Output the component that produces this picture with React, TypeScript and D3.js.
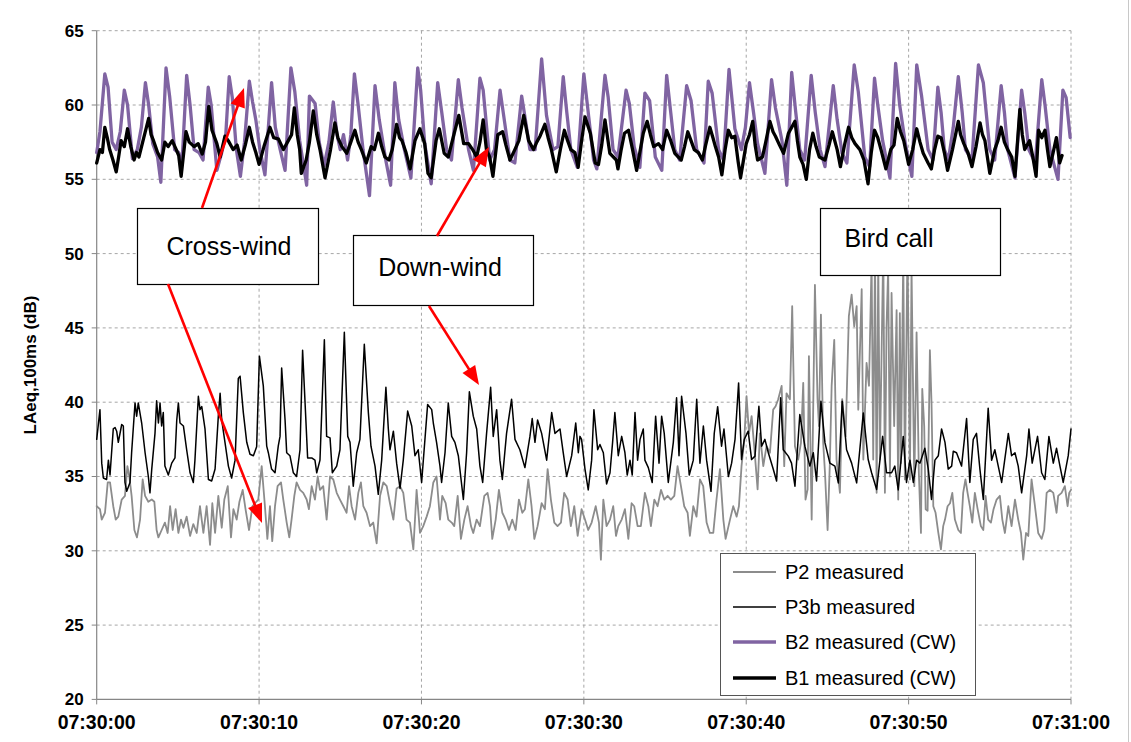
import React from 'react';
import * as d3 from 'd3';

type Pt = [number, number];

const xTickSeconds = [0, 10, 20, 30, 40, 50, 60];
const xTickLabels = ['07:30:00', '07:30:10', '07:30:20', '07:30:30', '07:30:40', '07:30:50', '07:31:00'];
const yTicks = [20, 25, 30, 35, 40, 45, 50, 55, 60, 65];
const yTitle = 'LAeq,100ms (dB)';
const seriesNames = ['P2 measured', 'P3b measured', 'B2 measured (CW)', 'B1 measured (CW)'];
const annotationLabels = ['Cross-wind', 'Down-wind', 'Bird call'];

// [seconds after 07:30:00, dB]
const p2Measured: Pt[] = [[0,33.0],[0.2,32.8],[0.31,32.1],[0.51,32.56],[0.68,34.6],[0.82,34.6],[1.02,33.0],[1.17,32.1],[1.33,32.3],[1.54,33.45],[1.74,33.7],[1.89,35.7],[2.01,35.0],[2.15,33.7],[2.32,31.4],[2.48,30.9],[2.67,32.1],[2.83,34.8],[2.98,33.7],[3.18,33.3],[3.39,33.45],[3.55,33.3],[3.69,31.4],[3.8,30.9],[4.0,31.4],[4.2,31.9],[4.37,31.2],[4.52,33.0],[4.68,31.4],[4.86,32.8],[5.03,31.2],[5.19,32.1],[5.34,31.55],[5.54,32.3],[5.75,31.0],[5.95,31.8],[6.16,31.2],[6.36,33.0],[6.57,31.2],[6.77,33.0],[6.98,30.4],[7.12,33.2],[7.29,31.2],[7.49,33.7],[7.7,31.55],[7.86,33.45],[8.07,34.35],[8.27,30.9],[8.42,32.8],[8.62,32.1],[8.79,33.3],[8.99,34.1],[9.18,32.7],[9.38,31.4],[9.59,33.0],[9.75,33.2],[9.95,33.45],[10.16,35.7],[10.36,33.0],[10.51,30.8],[10.67,33.0],[10.81,30.65],[10.98,33.0],[11.14,34.35],[11.35,34.6],[11.49,33.45],[11.7,31.9],[11.86,30.9],[12.0,32.1],[12.17,33.7],[12.31,34.6],[12.52,34.1],[12.72,33.9],[12.93,33.45],[13.07,32.8],[13.24,34.35],[13.44,33.45],[13.61,35.0],[13.75,34.1],[13.95,34.35],[14.16,32.1],[14.37,35.0],[14.57,34.8],[14.78,33.9],[14.98,33.45],[15.19,33.0],[15.39,32.56],[15.54,34.35],[15.7,33.0],[15.91,32.1],[16.11,33.9],[16.27,34.6],[16.42,33.0],[16.62,32.56],[16.83,31.66],[17.03,31.9],[17.24,30.5],[17.45,33.7],[17.65,34.6],[17.86,34.35],[18.06,33.2],[18.27,32.1],[18.47,34.2],[18.68,34.35],[18.88,33.9],[19.08,32.1],[19.29,31.9],[19.5,30.1],[19.7,34.1],[19.91,31.2],[20.11,31.66],[20.32,32.3],[20.52,33.0],[20.73,34.6],[20.93,35.0],[21.14,32.1],[21.28,33.7],[21.49,33.2],[21.65,32.1],[21.86,31.9],[22.02,31.66],[22.23,33.7],[22.43,30.8],[22.64,32.1],[22.84,33.0],[23.05,31.66],[23.19,31.2],[23.4,32.1],[23.6,31.66],[23.87,33.7],[24.07,33.9],[24.22,33.0],[24.36,30.8],[24.57,32.1],[24.77,34.1],[24.98,32.56],[25.18,32.1],[25.39,31.4],[25.59,32.1],[25.8,31.4],[26.0,33.45],[26.21,32.56],[26.37,32.8],[26.58,34.8],[26.78,33.0],[26.95,30.8],[27.15,31.66],[27.4,33.2],[27.6,32.8],[27.77,35.5],[27.97,33.45],[28.18,31.9],[28.38,31.66],[28.59,31.9],[28.79,33.9],[29.0,33.45],[29.2,31.66],[29.41,33.0],[29.62,31.0],[29.86,32.8],[30.07,32.1],[30.27,31.4],[30.48,31.9],[30.73,33.0],[30.93,31.9],[31.05,29.4],[31.2,33.45],[31.4,31.66],[31.61,32.1],[31.81,33.0],[31.98,31.0],[32.12,31.66],[32.33,32.1],[32.53,32.8],[32.74,30.8],[32.94,33.2],[33.1,33.0],[33.31,31.66],[33.51,31.66],[33.76,33.9],[33.97,33.0],[34.13,31.66],[34.34,33.45],[34.54,33.0],[34.75,34.1],[34.95,33.45],[35.16,33.7],[35.36,33.45],[35.57,33.7],[35.77,35.7],[35.98,34.35],[36.18,33.0],[36.39,32.56],[36.53,31.0],[36.74,33.0],[36.94,32.3],[37.15,34.8],[37.35,34.35],[37.56,31.9],[37.76,31.2],[37.97,31.2],[38.17,33.45],[38.38,35.5],[38.59,32.1],[38.73,30.8],[39.0,32.1],[39.2,33.0],[39.41,32.3],[39.55,33.0],[39.71,35.7],[39.88,37.5],[40.02,40.4],[40.17,37.9],[40.33,39.06],[40.49,37.04],[40.7,34.13],[40.84,37.9],[41.05,35.7],[41.25,37.04],[41.46,36.6],[41.66,39.5],[41.81,39.73],[41.97,40.2],[42.18,41.1],[42.34,35.7],[42.48,40.6],[42.69,40.2],[42.83,46.46],[43.0,37.04],[43.2,36.14],[43.37,37.26],[43.51,41.3],[43.65,33.45],[43.78,34.13],[43.86,43.1],[44.03,32.1],[44.23,47.9],[44.39,40.2],[44.48,38.4],[44.6,45.9],[44.74,37.26],[44.85,35.25],[45.01,31.4],[45.15,35.9],[45.26,41.1],[45.42,44.2],[45.56,36.14],[45.77,33.9],[45.91,40.2],[46.12,37.7],[46.32,45.8],[46.49,47.24],[46.65,45.1],[46.8,46.46],[46.9,39.5],[47.11,47.6],[47.21,36.14],[47.41,42.65],[47.56,41.1],[47.72,49.5],[47.82,36.14],[47.93,50.0],[48.03,33.9],[48.13,49.5],[48.23,36.14],[48.33,42.87],[48.44,50.5],[48.54,33.9],[48.64,45.1],[48.74,49.0],[48.85,35.0],[48.95,47.35],[49.11,38.4],[49.26,46.2],[49.36,33.45],[49.46,46.0],[49.53,35.9],[49.67,50.0],[49.77,34.8],[49.93,50.5],[50.08,34.8],[50.18,49.0],[50.35,34.35],[50.49,44.7],[50.63,35.25],[50.76,31.2],[50.84,40.9],[50.96,38.4],[51.05,32.8],[51.17,32.7],[51.31,43.5],[51.41,39.95],[51.52,33.0],[51.66,32.56],[51.83,31.2],[51.99,30.1],[52.13,31.66],[52.24,32.1],[52.4,33.0],[52.55,33.2],[52.69,33.9],[52.85,32.1],[53.06,31.4],[53.22,31.2],[53.36,33.9],[53.5,34.8],[53.63,33.9],[53.77,33.0],[53.92,31.9],[54.08,33.9],[54.25,32.8],[54.45,31.66],[54.6,31.4],[54.74,33.7],[54.9,32.1],[55.07,31.9],[55.23,32.8],[55.42,33.45],[55.62,33.7],[55.77,32.1],[55.93,31.2],[56.14,33.0],[56.34,31.66],[56.55,33.45],[56.75,32.1],[56.92,31.2],[57.06,29.4],[57.23,31.2],[57.37,31.0],[57.57,34.8],[57.78,33.0],[57.98,31.2],[58.19,30.8],[58.35,31.4],[58.5,33.9],[58.7,34.1],[58.91,33.9],[59.11,32.56],[59.21,33.7],[59.42,33.9],[59.62,34.35],[59.79,33.0],[59.89,33.9],[60.0,34.1]];

const p3bMeasured: Pt[] = [[0,37.5],[0.2,39.5],[0.31,35.9],[0.41,34.9],[0.61,34.8],[0.72,36.1],[0.82,35.1],[1.02,38.2],[1.13,38.3],[1.23,38.05],[1.33,37.3],[1.54,38.5],[1.64,38.4],[1.74,34.6],[1.85,34.0],[2.05,34.6],[2.15,36.6],[2.36,39.95],[2.46,39.06],[2.56,39.95],[2.77,38.6],[2.98,36.6],[3.18,35.0],[3.28,33.9],[3.39,35.5],[3.59,37.9],[3.69,40.1],[3.8,38.6],[3.9,39.95],[4.0,38.4],[4.1,39.3],[4.2,35.7],[4.41,35.1],[4.62,35.9],[4.82,36.25],[4.93,38.8],[5.03,39.95],[5.13,38.6],[5.34,38.4],[5.54,36.8],[5.75,35.25],[5.95,34.6],[6.05,36.1],[6.26,40.4],[6.36,39.5],[6.47,39.7],[6.67,38.2],[6.88,34.8],[7.08,34.7],[7.29,35.5],[7.49,39.06],[7.6,40.6],[7.7,38.8],[7.9,37.3],[8.11,35.7],[8.31,34.9],[8.52,36.1],[8.72,41.6],[8.83,41.75],[9.03,39.3],[9.24,37.3],[9.44,36.5],[9.65,36.4],[9.85,37.0],[10.02,43.1],[10.26,41.1],[10.47,37.04],[10.57,36.6],[10.77,35.5],[10.98,35.25],[11.18,37.04],[11.29,37.7],[11.39,42.3],[11.6,38.8],[11.7,36.6],[11.9,36.4],[12.11,35.25],[12.31,35.0],[12.52,36.8],[12.68,43.5],[12.83,40.0],[12.99,36.25],[13.24,36.25],[13.44,36.1],[13.55,35.25],[13.75,36.1],[14.02,44.2],[14.16,37.7],[14.37,37.6],[14.51,35.25],[14.78,35.7],[14.98,36.8],[15.25,44.7],[15.46,37.7],[15.6,37.3],[15.8,34.35],[16.01,36.6],[16.21,37.5],[16.48,43.9],[16.73,39.3],[16.89,37.04],[17.14,35.7],[17.34,33.8],[17.55,36.1],[17.81,41.0],[17.96,38.2],[18.06,36.8],[18.27,38.05],[18.47,35.9],[18.68,34.2],[18.88,36.1],[19.15,39.4],[19.4,38.4],[19.6,36.4],[19.8,36.8],[20.01,34.6],[20.38,39.85],[20.63,39.5],[20.73,38.6],[20.93,37.3],[21.14,35.7],[21.24,34.6],[21.45,36.6],[21.65,39.95],[21.86,37.7],[22.06,37.3],[22.27,36.4],[22.58,33.45],[22.78,36.6],[22.95,40.7],[23.19,39.06],[23.4,38.2],[23.6,35.7],[23.77,34.6],[24.01,37.9],[24.26,41.0],[24.42,37.7],[24.63,39.5],[24.83,36.1],[24.98,34.8],[25.24,37.9],[25.55,40.2],[25.76,37.5],[26.06,36.8],[26.37,35.6],[26.68,37.7],[26.82,38.9],[26.99,37.3],[27.15,38.8],[27.4,37.9],[27.71,36.1],[28.02,39.3],[28.22,37.9],[28.53,38.2],[28.73,36.6],[28.94,35.0],[29.25,36.4],[29.5,38.6],[29.66,36.6],[29.76,37.7],[29.86,37.5],[30.07,35.5],[30.27,34.1],[30.48,36.1],[30.62,39.5],[30.85,36.8],[30.99,37.15],[31.2,36.6],[31.4,34.5],[31.61,35.25],[31.77,37.3],[31.91,39.3],[32.12,36.4],[32.33,37.7],[32.53,36.6],[32.67,35.1],[32.84,36.1],[32.98,35.1],[33.15,39.3],[33.31,36.1],[33.46,37.5],[33.66,38.2],[33.76,36.1],[33.97,35.6],[34.21,34.6],[34.42,39.06],[34.63,35.9],[34.79,39.06],[34.95,37.9],[35.2,34.6],[35.51,37.3],[35.71,40.3],[35.86,36.4],[36.02,40.4],[36.29,37.9],[36.49,35.1],[36.74,36.1],[36.95,40.2],[37.15,35.9],[37.36,38.4],[37.56,36.1],[37.83,34.0],[38.03,37.9],[38.24,39.7],[38.48,37.04],[38.63,38.2],[38.9,35.0],[39.1,35.9],[39.31,37.5],[39.53,41.3],[39.71,36.14],[39.88,37.5],[40.12,38.05],[40.33,36.14],[40.54,36.37],[40.78,39.73],[40.95,37.04],[41.15,37.5],[41.36,36.6],[41.67,35.47],[41.87,34.7],[42.12,40.3],[42.28,36.8],[42.59,36.37],[42.79,35.9],[43.0,34.35],[43.3,39.17],[43.61,37.04],[43.92,35.7],[44.13,36.6],[44.33,34.7],[44.6,40.07],[44.85,37.26],[45.15,35.9],[45.46,35.7],[45.67,34.57],[45.91,40.07],[46.18,36.8],[46.49,35.9],[46.8,34.57],[47.21,39.28],[47.51,36.14],[47.72,35.25],[48.03,34.13],[48.4,37.7],[48.64,35.25],[48.95,35.25],[49.15,35.7],[49.36,34.1],[49.67,37.7],[49.87,34.6],[50.08,36.1],[50.29,34.6],[50.49,36.1],[50.7,35.9],[51.0,36.9],[51.21,35.5],[51.41,33.45],[51.62,36.1],[51.83,36.4],[52.03,38.2],[52.24,37.3],[52.44,35.5],[52.65,35.7],[52.75,36.7],[52.95,36.6],[53.26,35.7],[53.57,38.9],[53.77,34.6],[53.98,37.5],[54.18,37.9],[54.39,35.5],[54.6,33.45],[54.9,39.6],[55.11,36.1],[55.31,36.8],[55.52,35.7],[55.73,34.6],[56.14,37.9],[56.34,36.4],[56.55,36.6],[56.75,35.7],[56.96,33.9],[57.27,36.4],[57.41,38.2],[57.61,35.9],[57.94,37.7],[58.19,35.25],[58.39,34.8],[58.64,37.7],[58.91,35.9],[59.11,36.9],[59.32,35.7],[59.52,34.6],[59.83,36.4],[60.0,38.2]];

const b2Measured: Pt[] = [[0,56.8],[0.2,58.2],[0.5,62.1],[0.7,61.2],[0.95,57.5],[1.2,57.0],[1.45,58.2],[1.7,61.0],[1.9,60.0],[2.2,56.4],[2.5,57.0],[2.75,58.5],[3.0,61.5],[3.2,60.0],[3.45,57.4],[3.75,56.5],[3.95,54.8],[4.27,62.5],[4.5,60.5],[4.8,57.0],[5.05,56.8],[5.25,56.0],[5.54,62.0],[5.75,60.0],[6.0,57.0],[6.3,56.8],[6.55,56.3],[6.87,61.2],[7.05,60.0],[7.4,55.6],[7.7,56.8],[7.95,58.0],[8.16,61.9],[8.35,60.5],[8.6,57.0],[8.85,55.2],[9.1,57.5],[9.4,61.6],[9.6,60.2],[9.8,59.0],[10.05,57.0],[10.36,55.3],[10.77,61.5],[11.0,58.5],[11.3,57.0],[11.6,55.6],[11.96,62.5],[12.2,60.9],[12.5,57.6],[12.93,54.6],[13.1,60.6],[13.45,60.1],[13.7,57.5],[14.0,55.9],[14.3,57.5],[14.57,60.2],[14.8,58.0],[15.0,57.0],[15.2,58.0],[15.45,56.3],[15.65,58.0],[15.87,62.1],[16.1,60.0],[16.4,57.0],[16.8,53.9],[17.14,61.3],[17.4,59.0],[17.8,56.3],[18.1,54.6],[18.36,61.5],[18.6,59.0],[18.95,57.0],[19.35,55.1],[19.77,62.5],[19.95,61.0],[20.2,57.4],[20.6,54.7],[21.0,61.5],[21.25,59.5],[21.55,57.0],[21.85,56.3],[22.27,61.7],[22.5,59.8],[22.9,57.0],[23.2,55.6],[23.6,61.8],[23.8,61.0],[24.2,56.3],[24.5,57.0],[24.84,61.0],[25.1,59.0],[25.45,56.3],[25.75,56.1],[26.17,60.6],[26.4,59.0],[26.68,57.0],[27.0,57.0],[27.4,63.1],[27.7,59.3],[28.1,57.0],[28.4,57.2],[28.73,61.9],[28.95,59.5],[29.2,57.0],[29.6,55.8],[30.0,62.1],[30.3,59.2],[30.6,56.3],[30.8,55.7],[31.3,62.0],[31.5,60.5],[31.8,57.0],[32.1,56.5],[32.6,61.0],[32.8,60.1],[33.1,57.2],[33.45,55.8],[33.76,60.8],[34.05,60.3],[34.4,56.5],[34.8,55.6],[35.1,62.0],[35.35,59.5],[35.6,57.0],[35.9,56.3],[36.33,61.3],[36.6,60.3],[36.95,57.0],[37.4,56.1],[37.66,61.6],[37.9,60.8],[38.3,57.0],[38.6,56.3],[38.94,62.4],[39.3,58.4],[39.7,57.0],[39.95,58.5],[40.2,61.5],[40.45,59.5],[40.7,57.4],[41.15,55.4],[41.56,61.7],[41.8,59.8],[42.2,57.6],[42.5,54.6],[42.8,62.2],[43.05,59.5],[43.3,57.0],[43.6,56.3],[44.0,62.0],[44.25,59.5],[44.55,57.0],[44.85,55.85],[45.36,61.3],[45.6,59.0],[45.9,56.75],[46.2,56.1],[46.65,62.7],[46.9,60.9],[47.3,56.5],[47.6,55.85],[47.9,61.8],[48.1,60.0],[48.4,57.6],[48.85,55.1],[49.2,62.8],[49.45,60.0],[49.8,57.4],[50.2,55.2],[50.5,62.7],[50.8,60.6],[51.2,57.0],[51.5,56.3],[51.8,61.2],[52.0,59.5],[52.2,57.0],[52.45,56.3],[52.75,58.5],[53.06,61.9],[53.3,59.5],[53.5,57.0],[53.9,56.3],[54.3,62.7],[54.6,61.5],[55.0,57.0],[55.3,56.3],[55.7,61.3],[55.9,59.5],[56.1,57.0],[56.55,55.1],[56.96,61.0],[57.15,59.5],[57.4,57.0],[57.8,56.1],[58.2,61.7],[58.4,60.0],[58.7,57.0],[59.2,55.0],[59.5,61.0],[59.7,60.5],[59.95,57.8]];

const b1Measured: Pt[] = [[0,56.1],[0.2,57.0],[0.35,56.8],[0.5,58.5],[0.65,57.8],[0.8,57.0],[1.0,56.3],[1.2,55.5],[1.35,56.5],[1.5,57.6],[1.7,57.2],[1.9,58.4],[2.1,57.2],[2.3,56.3],[2.45,56.8],[2.6,56.5],[2.9,57.8],[3.2,59.1],[3.35,58.0],[3.5,57.6],[3.75,56.8],[4.0,56.3],[4.2,57.5],[4.4,57.2],[4.65,57.6],[4.9,57.0],[5.05,56.6],[5.2,55.2],[5.5,58.2],[5.7,57.5],[6.0,57.2],[6.25,57.4],[6.5,56.7],[6.7,57.5],[6.9,59.9],[7.1,58.3],[7.4,57.4],[7.6,56.5],[7.9,57.9],[8.1,57.6],[8.4,57.0],[8.65,57.3],[8.9,56.3],[9.15,57.3],[9.4,58.5],[9.6,57.5],[9.8,56.8],[10.0,56.0],[10.3,57.2],[10.67,58.5],[10.9,57.8],[11.2,57.7],[11.5,57.0],[11.8,57.6],[12.0,58.0],[12.17,59.8],[12.35,58.0],[12.5,57.0],[12.6,55.4],[12.9,56.3],[13.1,57.5],[13.34,59.6],[13.55,58.0],[13.75,57.0],[14.06,55.1],[14.4,57.0],[14.67,58.8],[14.85,57.8],[15.1,57.2],[15.4,56.75],[15.65,57.5],[15.9,58.3],[16.1,57.5],[16.3,57.0],[16.6,56.1],[16.9,57.2],[17.1,57.0],[17.35,58.1],[17.55,57.2],[17.75,56.5],[18.0,56.3],[18.2,57.0],[18.47,58.7],[18.65,57.8],[18.8,57.6],[19.05,56.8],[19.3,55.7],[19.6,57.6],[19.9,58.4],[20.2,57.4],[20.4,55.4],[20.6,55.1],[20.9,57.6],[21.1,58.4],[21.4,56.75],[21.65,56.5],[21.95,57.8],[22.3,59.3],[22.6,57.4],[22.9,57.4],[23.15,57.0],[23.4,56.5],[23.6,57.5],[23.8,59.0],[24.0,57.0],[24.2,56.5],[24.4,55.2],[24.7,58.0],[25.0,58.2],[25.2,57.3],[25.45,56.3],[25.75,57.0],[26.0,57.6],[26.3,59.3],[26.6,57.6],[26.9,57.0],[27.1,57.5],[27.3,57.9],[27.6,58.7],[27.8,57.8],[28.0,57.0],[28.3,55.5],[28.55,57.0],[28.8,58.3],[29.0,57.6],[29.2,57.0],[29.45,56.8],[29.65,55.8],[29.85,57.5],[30.07,59.2],[30.4,58.1],[30.7,56.1],[30.9,56.0],[31.1,57.3],[31.3,59.0],[31.6,56.75],[32.0,56.3],[32.1,55.7],[32.3,57.0],[32.5,58.1],[32.75,58.3],[33.0,57.0],[33.25,55.6],[33.66,58.1],[33.9,58.9],[34.1,58.0],[34.3,57.2],[34.6,57.4],[34.85,57.0],[35.1,58.3],[35.35,57.6],[35.6,56.75],[36.0,56.3],[36.2,57.2],[36.4,58.2],[36.6,57.6],[36.8,57.0],[37.05,56.8],[37.3,56.3],[37.5,57.3],[37.76,58.5],[37.95,57.8],[38.1,57.2],[38.3,56.5],[38.5,55.3],[38.7,57.0],[38.9,58.3],[39.1,57.8],[39.3,57.9],[39.5,56.2],[39.65,55.1],[40.0,57.4],[40.2,58.0],[40.4,58.9],[40.55,57.3],[40.7,56.3],[41.0,56.5],[41.2,57.5],[41.46,58.9],[41.65,58.2],[41.8,57.9],[42.05,57.3],[42.3,56.75],[42.6,58.1],[43.0,58.9],[43.15,57.6],[43.3,56.5],[43.5,56.0],[43.7,55.0],[43.9,57.0],[44.1,58.1],[44.3,57.2],[44.5,56.5],[44.85,56.3],[45.1,57.3],[45.3,58.2],[45.6,57.0],[45.8,55.85],[46.05,57.3],[46.3,58.5],[46.5,57.8],[46.7,57.4],[47.0,57.0],[47.25,56.3],[47.5,54.7],[47.7,56.8],[47.9,58.3],[48.1,57.8],[48.3,57.0],[48.6,55.7],[48.9,57.0],[49.1,57.3],[49.3,59.1],[49.5,58.2],[49.7,57.6],[50.0,56.0],[50.25,57.0],[50.5,58.4],[50.7,57.5],[50.9,56.75],[51.2,56.1],[51.4,55.7],[51.6,57.0],[51.8,57.9],[52.0,57.8],[52.2,56.8],[52.4,55.6],[52.7,57.0],[53.06,58.9],[53.2,58.0],[53.4,57.4],[53.65,56.8],[53.9,55.85],[54.15,57.2],[54.4,58.8],[54.55,58.0],[54.7,57.6],[55.0,55.4],[55.3,57.0],[55.5,57.6],[55.7,58.5],[55.9,57.5],[56.1,57.0],[56.35,56.5],[56.55,55.2],[56.85,59.7],[57.0,58.0],[57.15,57.0],[57.45,57.6],[57.65,56.5],[57.85,55.2],[58.0,58.3],[58.2,57.8],[58.4,58.3],[58.55,57.0],[58.7,55.85],[58.9,56.8],[59.1,57.8],[59.3,56.1],[59.45,56.6]];

const FONT = "'Liberation Sans', Arial, Helvetica, sans-serif";

function Arrow({ x1, y1, x2, y2 }: { x1: number; y1: number; x2: number; y2: number }) {
  const dx = x2 - x1;
  const dy = y2 - y1;
  const len = Math.sqrt(dx * dx + dy * dy);
  const ux = dx / len;
  const uy = dy / len;
  const headL = 19;
  const headW = 7.5;
  const bx = x2 - ux * headL;
  const by = y2 - uy * headL;
  const px = -uy;
  const py = ux;
  const pts = `${x2},${y2} ${bx + px * headW},${by + py * headW} ${bx - px * headW},${by - py * headW}`;
  return (
    <g>
      <line x1={x1} y1={y1} x2={bx + ux * 2} y2={by + uy * 2} stroke="#FF0000" strokeWidth={2.6} />
      <polygon points={pts} fill="#FF0000" />
    </g>
  );
}

export default function App() {
  const W = 1131;
  const H = 742;
  const left = 96.7;
  const right = 1071;
  const top = 30.7;
  const bottom = 699.4;

  const x = d3.scaleLinear().domain([0, 60]).range([left, right]);
  const y = d3.scaleLinear().domain([20, 65]).range([bottom, top]);
  const line = d3
    .line<Pt>()
    .x((d) => x(d[0]))
    .y((d) => y(d[1]));

  const series = [
    { name: seriesNames[0], data: p2Measured, color: '#8C8C8C', width: 1.8 },
    { name: seriesNames[1], data: p3bMeasured, color: '#000000', width: 1.5 },
    { name: seriesNames[2], data: b2Measured, color: '#8064A2', width: 3.3 },
    { name: seriesNames[3], data: b1Measured, color: '#000000', width: 3.3 },
  ];

  const gridColor = '#A6A6A6';

  const boxes = [
    { label: annotationLabels[0], x: 137, y: 208, w: 181, h: 76, tx: 229, ty: 255 },
    { label: annotationLabels[1], x: 353, y: 235, w: 180, h: 70, tx: 440, ty: 276 },
    { label: annotationLabels[2], x: 820, y: 208, w: 180, h: 67, tx: 889, ty: 247 },
  ];

  const legend = { x: 720, y: 553, w: 255, h: 142 };
  const legendRows = [572, 607, 642, 678];

  return (
    <svg
      width={W}
      height={H}
      viewBox={`0 0 ${W} ${H}`}
      style={{ position: 'absolute', left: 0, top: 0, background: '#FFFFFF' }}
      fontFamily={FONT}
    >
      <rect x={0} y={0} width={W} height={H} fill="#FFFFFF" />
      <line x1={1128.5} x2={1128.5} y1={0} y2={H} stroke="#C8C8C8" strokeWidth={1} />

      {/* horizontal grid */}
      {yTicks
        .filter((v) => v !== 20)
        .map((v) => (
          <line
            key={`hg${v}`}
            x1={left}
            x2={right}
            y1={y(v)}
            y2={y(v)}
            stroke={gridColor}
            strokeWidth={1}
            strokeDasharray="3,3"
          />
        ))}
      {/* vertical grid */}
      {xTickSeconds
        .filter((s) => s !== 0)
        .map((s) => (
          <line
            key={`vg${s}`}
            x1={x(s)}
            x2={x(s)}
            y1={top}
            y2={bottom}
            stroke={gridColor}
            strokeWidth={1}
            strokeDasharray="3,3"
          />
        ))}

      {/* axes */}
      <line x1={left} x2={left} y1={top} y2={bottom} stroke="#868686" strokeWidth={1.2} />
      <line x1={left} x2={right} y1={bottom} y2={bottom} stroke="#868686" strokeWidth={1.2} />
      {yTicks.map((v) => (
        <line key={`yt${v}`} x1={left - 5} x2={left} y1={y(v)} y2={y(v)} stroke="#868686" strokeWidth={1} />
      ))}
      {xTickSeconds.map((s) => (
        <line key={`xt${s}`} x1={x(s)} x2={x(s)} y1={bottom} y2={bottom + 5} stroke="#868686" strokeWidth={1} />
      ))}

      {/* tick labels */}
      {yTicks.map((v) => (
        <text
          key={`yl${v}`}
          x={left - 13}
          y={y(v)}
          dy="0.35em"
          textAnchor="end"
          fontSize={17}
          fontWeight="bold"
          fill="#000"
        >
          {v}
        </text>
      ))}
      {xTickSeconds.map((s, i) => (
        <text
          key={`xl${s}`}
          x={x(s)}
          y={729}
          textAnchor="middle"
          fontSize={19.5}
          fontWeight="bold"
          fill="#000"
        >
          {xTickLabels[i]}
        </text>
      ))}
      <text
        transform={`translate(36, ${(top + bottom) / 2}) rotate(-90)`}
        textAnchor="middle"
        fontSize={17}
        fontWeight="bold"
        fill="#000"
      >
        {yTitle}
      </text>

      {/* series */}
      {series.map((s) => (
        <path
          key={s.name}
          d={line(s.data) || ''}
          fill="none"
          stroke={s.color}
          strokeWidth={s.width}
          strokeLinejoin="round"
          strokeLinecap="round"
        />
      ))}

      {/* annotation boxes */}
      {boxes.map((b) => (
        <g key={b.label}>
          <rect x={b.x + 0.5} y={b.y + 0.5} width={b.w} height={b.h} fill="#FFFFFF" stroke="#000" strokeWidth={1.2} />
          <text x={b.tx} y={b.ty} textAnchor="middle" fontSize={25} fill="#000">
            {b.label}
          </text>
        </g>
      ))}

      {/* arrows */}
      <Arrow x1={202} y1={208} x2={244} y2={88} />
      <Arrow x1={168} y1={284} x2={262} y2={523} />
      <Arrow x1={437} y1={236} x2={489} y2={147} />
      <Arrow x1={429} y1={306} x2={479} y2={385} />

      {/* legend */}
      <rect
        x={legend.x + 0.5}
        y={legend.y + 0.5}
        width={legend.w}
        height={legend.h}
        fill="#FFFFFF"
        stroke="#555"
        strokeWidth={1}
      />
      {series.map((s, i) => (
        <g key={`lg${s.name}`}>
          <line
            x1={733}
            x2={776}
            y1={legendRows[i]}
            y2={legendRows[i]}
            stroke={s.color}
            strokeWidth={s.width}
          />
          <text x={785} y={legendRows[i]} dy="0.35em" fontSize={20} fill="#000">
            {s.name}
          </text>
        </g>
      ))}
    </svg>
  );
}
